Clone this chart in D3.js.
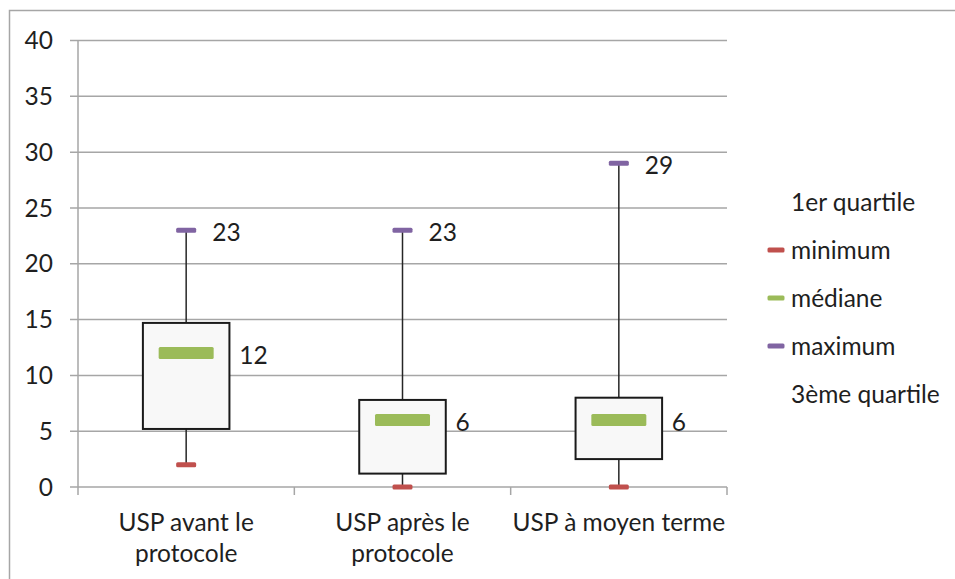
<!doctype html>
<html>
<head>
<meta charset="utf-8">
<script src="https://d3js.org/d3.v7.min.js"></script>
<style>
  body { margin: 0; background: #fff; }
  text { font-family: Lato, "Open Sans", sans-serif; fill: #1f1f1f; }
</style>
</head>
<body>
<svg id="chart" width="955" height="579"></svg>
<script>
// values
var categories = ["USP avant le protocole", "USP après le protocole", "USP à moyen terme"];
var catLines = [["USP avant le", "protocole"], ["USP après le", "protocole"], ["USP à moyen terme"]];
var q1 = [5.2, 1.2, 2.5];
var minimum = [2, 0, 0];
var mediane = [12, 6, 6];
var maximum = [23, 23, 29];
var q3 = [14.7, 7.8, 8.0];
var yTicks = [0, 5, 10, 15, 20, 25, 30, 35, 40];
var legendItems = ["1er quartile", "minimum", "médiane", "maximum", "3ème quartile"];
var legendColors = [null, "#c0504d", "#9bbb59", "#8064a2", null];

var svg = d3.select("#chart");
var fs = 24.5;

// outer frame
svg.append("rect").attr("x", 9.5).attr("y", 10.5).attr("width", 960).attr("height", 600)
  .attr("fill", "none").attr("stroke", "#a6a6a6").attr("stroke-width", 1.5);

var x = d3.scaleBand().domain(categories).range([78, 727]).padding(0);
var y = d3.scaleLinear().domain([0, 40]).range([487, 40.5]);
var bw = x.bandwidth();

// gridlines + y ticks
svg.append("g").selectAll("line").data(yTicks).enter().append("line")
  .attr("x1", 70).attr("x2", 727)
  .attr("y1", function(d){ return y(d); }).attr("y2", function(d){ return y(d); })
  .attr("stroke", "#a6a6a6").attr("stroke-width", 1.5);

svg.append("g").selectAll("text").data(yTicks).enter().append("text")
  .attr("x", 53).attr("y", function(d){ return y(d); })
  .attr("dy", "0.35em").attr("text-anchor", "end")
  .style("font-size", fs + "px").text(function(d){ return d; });

// y axis line
svg.append("line").attr("x1", 78).attr("x2", 78).attr("y1", y(40)).attr("y2", y(0))
  .attr("stroke", "#a6a6a6").attr("stroke-width", 1.5);

// x axis tick marks at band edges
var edges = categories.map(function(c){ return x(c); }).concat([x.range()[1]]);
svg.append("g").selectAll("line").data(edges).enter().append("line")
  .attr("x1", function(d){ return d; }).attr("x2", function(d){ return d; })
  .attr("y1", y(0)).attr("y2", y(0) + 8)
  .attr("stroke", "#a6a6a6").attr("stroke-width", 1.5);

// category labels
var cl = svg.append("g").selectAll("text").data(categories).enter().append("text")
  .attr("text-anchor", "middle").style("font-size", fs + "px")
  .attr("transform", function(d){ return "translate(" + (x(d) + bw / 2) + ",522)"; });
cl.selectAll("tspan").data(function(d, i){ return catLines[i]; }).enter().append("tspan")
  .attr("x", 0).attr("y", function(d, j){ return j * 31; }).attr("dy", "0.35em")
  .text(function(d){ return d; });

// boxes
var g = svg.append("g").selectAll("g").data(categories).enter().append("g")
  .attr("transform", function(d){ return "translate(" + (x(d) + bw / 2) + ",0)"; });

g.append("line")
  .attr("y1", function(d, i){ return y(minimum[i]); })
  .attr("y2", function(d, i){ return y(maximum[i]); })
  .attr("stroke", "#262626").attr("stroke-width", 1.5);

var boxW = bw * 0.4;
g.append("rect")
  .attr("x", -boxW / 2).attr("width", boxW)
  .attr("y", function(d, i){ return y(q3[i]); })
  .attr("height", function(d, i){ return y(q1[i]) - y(q3[i]); })
  .attr("fill", "#f8f8f8").attr("stroke", "#1a1a1a").attr("stroke-width", 2);

// markers
function marker(vals, color, w, h) {
  g.append("rect")
    .attr("x", -w / 2).attr("width", w)
    .attr("y", function(d, i){ return y(vals[i]) - h / 2; }).attr("height", h)
    .attr("rx", 1.5).attr("fill", color);
}
marker(minimum, "#c0504d", 20, 5);
marker(maximum, "#8064a2", 20, 5);
marker(mediane, "#9bbb59", 55, 12);

// data labels
g.append("text").style("font-size", fs + "px")
  .attr("x", 26).attr("y", function(d, i){ return y(maximum[i]) + 2; }).attr("dy", "0.35em")
  .text(function(d, i){ return maximum[i]; });
g.append("text").style("font-size", fs + "px")
  .attr("x", 53).attr("y", function(d, i){ return y(mediane[i]) + 2; }).attr("dy", "0.35em")
  .text(function(d, i){ return mediane[i]; });

// legend
var lg = svg.append("g").selectAll("g").data(legendItems).enter().append("g")
  .attr("transform", function(d, i){ return "translate(767," + (202 + i * 48) + ")"; });
lg.filter(function(d, i){ return legendColors[i]; }).append("rect")
  .attr("x", 0.5).attr("y", -2.5).attr("width", 17).attr("height", 5).attr("rx", 1.5)
  .attr("fill", function(d){ return legendColors[legendItems.indexOf(d)]; });
lg.append("text").attr("x", 24).attr("dy", "0.35em").style("font-size", fs + "px")
  .text(function(d){ return d; });
</script>
</body>
</html>
